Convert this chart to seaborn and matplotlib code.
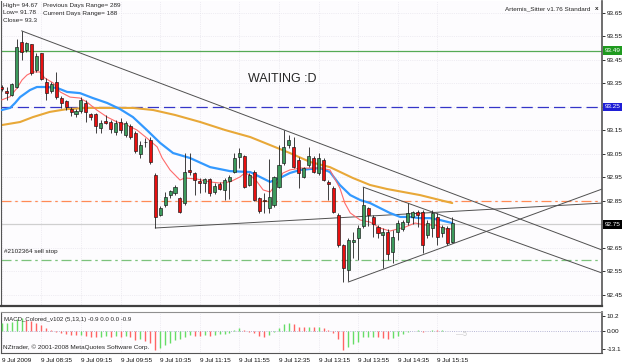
"""
USDJPY-style 5 min chart with MAs, trend lines and MACD_Colored histogram
"""
import numpy as np
import pandas as pd
import matplotlib.pyplot as plt
import seaborn as sns
from matplotlib.transforms import blended_transform_factory

# ---- 5 minute candles ----
opens = [93.336, 93.319, 93.301, 93.336, 93.528, 93.492, 93.517, 93.407, 93.478, 93.357,
         93.318, 93.357, 93.287, 93.277, 93.240, 93.220, 93.234, 93.268, 93.219, 93.219,
         93.159, 93.190, 93.187, 93.143, 93.186, 93.131, 93.169, 93.139, 93.050, 93.101,
         93.109, 92.960, 92.790, 92.833, 92.875, 92.884, 92.863, 92.841, 92.982, 92.969,
         92.935, 92.926, 92.943, 92.888, 92.922, 92.897, 92.935, 92.973, 93.037, 93.041,
         92.918, 92.973, 92.863, 92.854, 92.820, 92.833, 92.909, 93.011, 93.088, 93.080,
         93.024, 92.952, 93.003, 93.033, 92.969, 93.024, 92.931, 92.905, 92.790, 92.663,
         92.556, 92.675, 92.692, 92.743, 92.820, 92.782, 92.739, 92.705, 92.718, 92.633,
         92.718, 92.731, 92.760, 92.782, 92.803, 92.803, 92.705, 92.735, 92.782, 92.714,
         92.735, 92.675]
highs = [93.343, 93.336, 93.352, 93.539, 93.574, 93.528, 93.518, 93.481, 93.479, 93.373,
         93.357, 93.400, 93.297, 93.280, 93.248, 93.240, 93.291, 93.280, 93.226, 93.224,
         93.194, 93.216, 93.194, 93.194, 93.203, 93.190, 93.177, 93.148, 93.105, 93.118,
         93.122, 92.969, 92.829, 92.888, 92.897, 92.918, 92.867, 93.054, 93.054, 92.973,
         92.948, 92.948, 92.948, 92.926, 92.931, 92.948, 92.960, 93.054, 93.075, 93.046,
         92.969, 92.982, 92.867, 92.884, 93.029, 92.956, 93.088, 93.152, 93.131, 93.122,
         93.037, 92.994, 93.080, 93.041, 93.054, 93.033, 92.939, 92.914, 92.799, 92.667,
         92.692, 92.718, 92.748, 92.909, 92.824, 92.790, 92.748, 92.735, 92.731, 92.726,
         92.769, 92.769, 92.841, 92.807, 92.812, 92.812, 92.769, 92.812, 92.799, 92.748,
         92.743, 92.782]
lows = [93.318, 93.280, 93.297, 93.331, 93.450, 93.484, 93.386, 93.400, 93.365, 93.280,
        93.308, 93.283, 93.246, 93.237, 93.211, 93.208, 93.226, 93.187, 93.194, 93.139,
        93.139, 93.177, 93.139, 93.131, 93.139, 93.122, 93.114, 93.054, 93.033, 93.080,
        93.007, 92.735, 92.786, 92.824, 92.863, 92.875, 92.799, 92.833, 92.960, 92.875,
        92.884, 92.888, 92.871, 92.880, 92.897, 92.854, 92.858, 92.969, 92.990, 92.905,
        92.914, 92.850, 92.799, 92.799, 92.799, 92.824, 92.905, 93.003, 93.075, 92.990,
        92.905, 92.948, 92.994, 92.969, 92.960, 92.935, 92.854, 92.799, 92.654, 92.505,
        92.509, 92.607, 92.599, 92.735, 92.743, 92.697, 92.692, 92.565, 92.599, 92.586,
        92.684, 92.722, 92.748, 92.752, 92.739, 92.629, 92.692, 92.697, 92.663, 92.697,
        92.663, 92.671]
closes = [93.325, 93.311, 93.348, 93.506, 93.485, 93.523, 93.396, 93.467, 93.368, 93.311,
          93.346, 93.294, 93.268, 93.248, 93.230, 93.234, 93.280, 93.230, 93.208, 93.169,
          93.183, 93.180, 93.155, 93.182, 93.152, 93.182, 93.122, 93.063, 93.088, 93.099,
          93.016, 92.782, 92.820, 92.867, 92.892, 92.909, 92.803, 92.973, 92.973, 92.939,
          92.926, 92.943, 92.884, 92.914, 92.901, 92.939, 92.952, 93.033, 93.054, 92.909,
          92.960, 92.854, 92.807, 92.850, 92.867, 92.952, 93.003, 93.080, 93.109, 92.994,
          92.969, 92.990, 93.041, 92.973, 93.033, 92.939, 92.922, 92.803, 92.663, 92.565,
          92.684, 92.684, 92.735, 92.833, 92.790, 92.752, 92.714, 92.718, 92.624, 92.697,
          92.756, 92.760, 92.799, 92.803, 92.790, 92.663, 92.756, 92.799, 92.697, 92.739,
          92.671, 92.756]

# ---- moving averages, sampled along the drawn lines ----
ma_fast_bar = [0, 1.7, 3.1, 4.1, 5.1, 6.3, 7.7, 8.7, 10.4, 11.8, 13.8, 15.8, 17.2, 19.2,
               21.3, 23.3, 25.3, 27.3, 29.3, 31.4, 32.4, 34.0, 36.0, 37.0, 39.5, 42.1,
               44.1, 46.1, 48.1, 49.1, 50.2, 51.6, 52.8, 54.2, 55.6, 56.8, 58.2, 60.3,
               62.3, 64.3, 66.3, 68.3, 69.3, 70.4, 72.4, 74.4, 76.4, 78.4, 81.5, 83.5,
               85.5, 87.5, 89.5, 91.0]
ma_fast = [93.280, 93.294, 93.331, 93.365, 93.386, 93.399, 93.399, 93.373, 93.352, 93.314,
           93.292, 93.288, 93.271, 93.237, 93.207, 93.186, 93.173, 93.152, 93.118, 93.080,
           93.033, 92.982, 92.939, 92.948, 92.943, 92.931, 92.926, 92.931, 92.952, 92.969,
           92.960, 92.931, 92.897, 92.888, 92.926, 92.969, 92.982, 92.990, 92.990, 92.990,
           92.982, 92.905, 92.841, 92.799, 92.769, 92.760, 92.735, 92.722, 92.739, 92.756,
           92.748, 92.748, 92.731, 92.731]

ma_mid_bar = [0, 1.7, 2.7, 3.7, 5.7, 7.1, 9.1, 11.2, 13.2, 15.8, 18.4, 21.3, 23.9, 26.5,
              29.3, 32.0, 34.6, 38.0, 42.1, 46.1, 50.2, 52.2, 54.2, 56.2, 58.2, 60.3,
              64.3, 66.3, 68.3, 70.4, 72.4, 74.4, 76.4, 78.4, 80.5, 82.5, 84.5, 86.5,
              88.5, 91.0]
ma_mid = [93.237, 93.246, 93.267, 93.292, 93.322, 93.335, 93.335, 93.331, 93.314, 93.309,
          93.288, 93.267, 93.241, 93.207, 93.152, 93.097, 93.054, 93.033, 92.994, 92.977,
          92.973, 92.952, 92.931, 92.948, 92.969, 92.982, 92.990, 92.973, 92.918, 92.875,
          92.854, 92.841, 92.820, 92.799, 92.782, 92.782, 92.777, 92.777, 92.769, 92.756]

ma_slow_bar = [0, 3.7, 6.3, 9.7, 13.2, 17.2, 21.9, 26.5, 30.6, 35.0, 40.1, 45.1, 50.2,
               54.2, 58.2, 62.3, 66.3, 70.9, 74.4, 77.8, 84.5, 88.5, 91.0]
ma_slow = [93.173, 93.186, 93.207, 93.229, 93.241, 93.246, 93.246, 93.246, 93.237, 93.216,
           93.186, 93.152, 93.122, 93.088, 93.054, 93.016, 92.994, 92.948, 92.918, 92.901,
           92.875, 92.854, 92.841]

# ---- hand drawn trend lines: start bar, start price, end bar, end price ----
trend_start_bar = [4, 73, 70, 31]
trend_start_price = [93.574, 92.909, 92.505, 92.735]
trend_end_bar = [121.3, 121.3, 121.3, 121.3]
trend_end_price = [92.641, 92.543, 92.901, 92.841]

# ---- horizontal levels ----
level_green = 93.49
level_blue = 93.25
level_orange = 92.85
level_bid = 92.75
level_stop = 92.60

# ---- MACD_Colored histogram ----
macd = [5.3, 5.7, 6.4, 8.1, 8.8, 7.6, 7.1, 5.7, 4.0, 1.7,
        0.5, -0.7, -1.9, -2.6, -3.1, -3.3, -2.9, -3.6, -4.3, -4.8,
        -4.3, -3.8, -4.3, -3.8, -4.3, -3.8, -4.8, -6.7, -6.2, -7.1,
        -8.6, -13.8, -12.6, -10.2, -8.6, -6.7, -6.2, -4.3, -3.1, -3.6,
        -3.8, -3.3, -3.8, -3.3, -2.6, -2.4, -1.9, 0.5, 2.1, 0.5,
        -0.7, -1.9, -3.8, -4.3, -3.1, -0.7, 2.1, 4.5, 5.7, 4.5,
        2.9, 2.4, 2.9, 2.4, 2.6, 1.7, 0.5, -1.9, -6.2, -13.8,
        -11.4, -9.5, -7.9, -4.8, -4.3, -4.3, -4.8, -5.5, -6.2, -5.5,
        -3.8, -2.6, -1.2, -0.2, 0.2, -0.7, -0.3, 0.5, 0.2, 0.3,
        -0.4, 0.1]

price_ticks = [92.45, 92.55, 92.65, 92.75, 92.85, 92.95, 93.05, 93.15, 93.25, 93.35,
               93.45, 93.55, 93.65]
time_tick_bars = [0, 8, 16, 24, 32, 40, 48, 56, 64, 72, 80, 88]
time_tick_labels = ['9 Jul 2009', '9 Jul 08:35', '9 Jul 09:15', '9 Jul 09:55',
                    '9 Jul 10:35', '9 Jul 11:15', '9 Jul 11:55', '9 Jul 12:35',
                    '9 Jul 13:15', '9 Jul 13:55', '9 Jul 14:35', '9 Jul 15:15']

df = pd.DataFrame({'open': opens, 'high': highs, 'low': lows, 'close': closes})
df['bar'] = np.arange(len(df))

# Style
sns.set_style("white")
plt.rcParams['font.family'] = ['Liberation Sans', 'DejaVu Sans']

W, H = 625, 363
fig = plt.figure(figsize=(W / 100, H / 100), dpi=100)
fig.patch.set_facecolor('white')

# main price panel: pixels x 1..602, y 1..306
ax = fig.add_axes([1 / W, 1 - 306 / H, 601 / W, 305 / H])
# indicator panel: pixels y 312..353
ax2 = fig.add_axes([1 / W, 1 - 353 / H, 601 / W, 41 / H])

bg = '#fdfcfe'
for a in (ax, ax2):
    a.set_facecolor(bg)
    a.set_xlim(-0.15, 121.25)

ax.set_ylim(92.403, 93.701)
ax2.set_ylim(-15.9, 13.4)

# faint MT4 style dotted grid
for t in price_ticks:
    ax.axhline(t, color='#e2dfe8', lw=0.5, ls=':', zorder=0)
for b in time_tick_bars:
    ax.axvline(b, color='#e2dfe8', lw=0.5, ls=':', zorder=0)
    ax2.axvline(b, color='#e2dfe8', lw=0.5, ls=':', zorder=0)

# horizontal levels
ax.axhline(level_green, color='#55aa55', lw=0.9, zorder=1)
ax.axhline(level_blue, color='#3535c8', lw=0.9, dashes=(9, 4), zorder=1)
ax.axhline(level_orange, color='#ff8a55', lw=0.9, dashes=(8, 3, 2, 3), zorder=1)
ax.axhline(level_bid, color='#cfcfcf', lw=0.9, zorder=1)
ax.axhline(level_stop, color='#7cc27c', lw=0.9, dashes=(8, 3, 2, 3), zorder=1)

# moving averages
sns.lineplot(x=ma_slow_bar, y=ma_slow, ax=ax, color='#e8a838', lw=1.5, zorder=2)
sns.lineplot(x=ma_mid_bar, y=ma_mid, ax=ax, color='#3399ff', lw=1.6, zorder=3)
sns.lineplot(x=ma_fast_bar, y=ma_fast, ax=ax, color='#ff6b6b', lw=0.8, zorder=3)

# trend lines
for b0, p0, b1, p1 in zip(trend_start_bar, trend_start_price, trend_end_bar, trend_end_price):
    ax.plot([b0, b1], [p0, p1], color='#505050', lw=0.7, zorder=2)

# candles
up = df['close'] >= df['open']
ax.vlines(df['bar'], df['low'], df['high'], color='#202020', lw=0.6, zorder=4)
body_low = np.minimum(df['open'], df['close'])
body_h = np.maximum(np.abs(df['close'] - df['open']), 0.0025)
ax.bar(df['bar'], body_h, bottom=body_low, width=0.62,
       color=np.where(up, '#3c9a5c', '#e81010'), edgecolor='#151515',
       linewidth=0.45, zorder=5)

# MACD histogram, green when rising, red when falling
prev = np.r_[macd[0] - 1, macd[:-1]]
hist_colors = np.where(np.array(macd) >= prev, '#66dd66', '#ff6464')
ax2.vlines(df['bar'], 0, macd, colors=hist_colors, lw=1.0, zorder=3)
ax2.axhline(0, color='#a0a0c8', lw=0.6, ls=':', zorder=2)

# levels that get a coloured box on the price scale
boxed = {level_green: ('93.49', '#1f9a1f'),
         level_blue: ('93.25', '#1f1fd6'),
         level_bid: ('92.75', '#000000')}

# axes, ticks (boxed prices are labelled by their box only)
ax.yaxis.tick_right()
ax.set_yticks(price_ticks)
ax.set_yticklabels(['' if round(t, 2) in boxed else f'{t:.2f}' for t in price_ticks])
ax.set_xticks([])
ax.tick_params(axis='y', length=2, width=0.6, pad=1.5, labelsize=4.6, colors='#111111')

ax2.yaxis.tick_right()
ax2.set_yticks([10.2, 0.0, -13.1])
ax2.set_yticklabels(['10.2', '0.00', '-13.1'])
ax2.tick_params(axis='y', length=2, width=0.6, pad=1.5, labelsize=4.6, colors='#111111')
ax2.set_xticks(time_tick_bars)
ax2.set_xticklabels(time_tick_labels, ha='left')
ax2.tick_params(axis='x', length=2, width=0.6, pad=1.5, labelsize=4.6, colors='#111111')

for a in (ax, ax2):
    a.set_xlabel('')
    a.set_ylabel('')
    for s in a.spines.values():
        s.set_color('#555555')
        s.set_linewidth(0.8)
ax.spines['top'].set_visible(False)
ax.spines['bottom'].set_linewidth(1.6)
ax.spines['bottom'].set_color('#404040')
ax.spines['right'].set_linewidth(1.2)
ax2.spines['right'].set_linewidth(1.2)
ax2.spines['top'].set_color('#909090')

trans = blended_transform_factory(ax.transAxes, ax.transData)
for lvl, (txt, fc) in boxed.items():
    ax.text(1.004, lvl, txt, transform=trans, fontsize=4.6, color='white',
            va='center', ha='left', clip_on=False, zorder=10,
            bbox=dict(boxstyle='square,pad=0.25', fc=fc, ec='none'))

# chart texts
def px(x, y):
    return x / W, 1 - y / H

fig.text(*px(3, 5), 'High= 94.67', fontsize=4.6, va='center')
fig.text(*px(43, 5), 'Previous Days Range= 289', fontsize=4.6, va='center')
fig.text(*px(3, 13), 'Low= 91.78', fontsize=4.6, va='center')
fig.text(*px(43, 13), 'Current Days Range= 188', fontsize=4.6, va='center')
fig.text(*px(3, 21), 'Close= 93.3', fontsize=4.6, va='center')
fig.text(*px(590, 9), 'Artemis_Sitter v1.76 Standard', fontsize=4.6, va='center', ha='right')
fig.text(*px(597, 9), 'x', fontsize=4.6, va='center', ha='center', fontweight='bold')
fig.text(*px(248, 79), 'WAITING :D', fontsize=9, va='center', ha='left')
fig.text(*px(4, 251), '#2102364 sell stop', fontsize=4.6, va='center', color='#202020')
fig.text(*px(4, 319), 'MACD_Colored_v102 (5,13,1) -0.9 0.0 0.0 -0.9', fontsize=4.4, va='center')
fig.text(*px(3, 347), 'NZtrader, \u00a9 2001-2008 MetaQuotes Software Corp.', fontsize=4.6, va='center')
fig.text(*px(456, 334), '\u20145', fontsize=5, va='center', color='#c8c8c8')

plt.savefig('out.png', dpi=100, facecolor='white')
